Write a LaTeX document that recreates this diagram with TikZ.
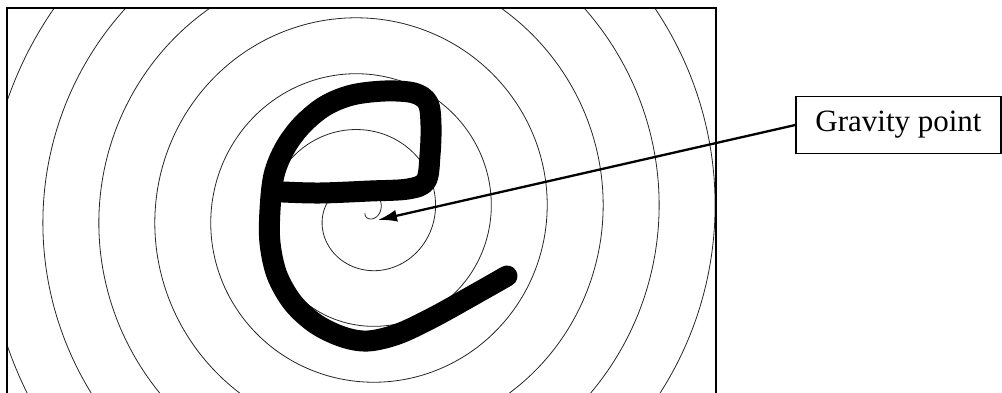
\documentclass[tikz,border=0pt]{standalone}
\usepackage{fontspec}
\setmainfont{Liberation Serif}
\usetikzlibrary{arrows.meta}
\tikzset{
  frameline/.style={line width=1.8pt, black},
  spiralline/.style={line width=0.8pt, black!85},
  estroke/.style={line width=21pt, black, line cap=round, line join=round},
  labelbox/.style={draw, line width=1.3pt, minimum width=205pt, minimum height=57pt, inner sep=0pt,
    font=\fontsize{31}{36}\selectfont},
  pointer/.style={line width=2.3pt, -{Latex[length=19pt,width=12pt]}}
}
\begin{document}
\begin{tikzpicture}[x=1pt,y=-1pt]
\useasboundingbox (0,0) rectangle (1002,393);
% spiral clipped to frame
\begin{scope}
  \clip (7,8) rectangle (716,400);
  \draw[spiralline] plot[domain=-95:2630, samples=1400, smooth]
    ({365+(14+0.155556*\x)*cos(\x)}, {214-(14+0.155556*\x)*sin(\x)});
\end{scope}
% frame (open at the bottom)
\draw[frameline] (7,400) -- (7,8) -- (716,8) -- (716,400);
% the letter e
\draw[estroke] plot[smooth, tension=0.55] coordinates {
  (283,192) (320,193) (370,191) (408,189) (426,181) (430,155) (431,125)
  (428,103) (414,93) (385,91) (352,95) (325,106) (302,125) (285,148)
  (274,175) (270,210) (270,243) (277,275) (293,303) (316,324) (343,337)
  (368,341) (398,334) (432,318) (470,297) (507,276)};
% label and arrow
\node[labelbox] (gp) at (898.5,125) {Gravity point};
\coordinate (tip) at (378,220);
\draw[pointer] (gp.west) -- (tip);
\end{tikzpicture}
\end{document}
